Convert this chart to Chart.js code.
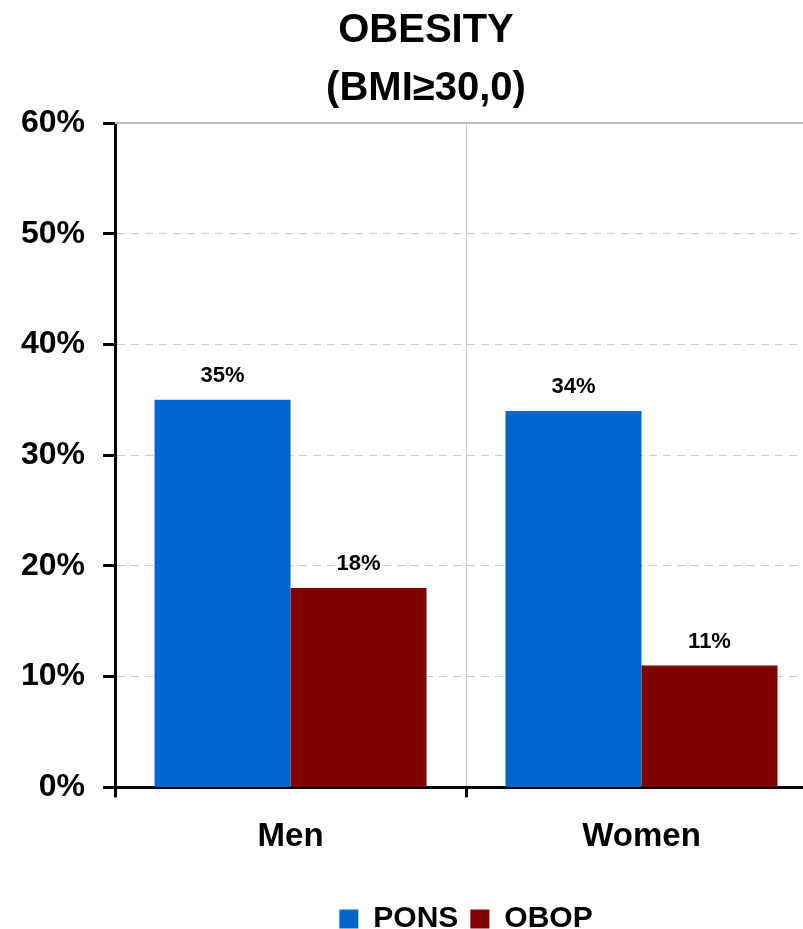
<!DOCTYPE html>
<html>
<head>
<meta charset="utf-8">
<script src="https://cdn.jsdelivr.net/npm/chart.js@4/dist/chart.umd.min.js"></script>
<style>
  html, body { margin: 0; padding: 0; background: #fff; overflow: hidden; }
  #wrap { width: 817px; height: 929px; }
</style>
</head>
<body>
<div id="wrap"><canvas id="c"></canvas></div>
<script>
// Obesity prevalence (BMI >= 30,0) by sex, two surveys
const categories = ['Men', 'Women'];
const seriesNames = ['PONS', 'OBOP'];
const ponsValues = [35, 34];
const obopValues = [18, 11];
const titleLines = ['OBESITY', '(BMI\u226530,0)'];

const FONT = '"Liberation Sans", Arial, Helvetica, sans-serif';

// Value labels above each bar, placed from the bar elements
const valueLabels = {
  id: 'valueLabels',
  afterDatasetsDraw(chart) {
    const ctx = chart.ctx;
    ctx.save();
    ctx.font = 'bold 22px ' + FONT;
    ctx.fillStyle = '#000';
    ctx.textAlign = 'center';
    ctx.textBaseline = 'alphabetic';
    chart.data.datasets.forEach((ds, i) => {
      chart.getDatasetMeta(i).data.forEach((bar, j) => {
        ctx.fillText(ds.data[j] + '%', bar.x, bar.y - 18);
      });
    });
    ctx.restore();
  }
};

// Solid line along the top of the plot area (the 60% level)
const topBorder = {
  id: 'topBorder',
  beforeDatasetsDraw(chart) {
    const { ctx, chartArea, scales } = chart;
    const y = scales.y.getPixelForValue(scales.y.max);
    ctx.save();
    ctx.strokeStyle = '#c0c0c0';
    ctx.lineWidth = 2;
    ctx.beginPath();
    ctx.moveTo(chartArea.left, y);
    ctx.lineTo(chartArea.right, y);
    ctx.stroke();
    ctx.restore();
  }
};

// Fine placement of the title and legend blocks
const blockOffsets = {
  id: 'blockOffsets',
  afterLayout(chart) {
    const lg = chart.legend;
    if (lg) { lg.top += 15; lg.bottom += 15; }
    const tb = chart.titleBlock;
    if (tb) { tb.left += 16; tb.right += 16; }
  }
};

new Chart(document.getElementById('c'), {
  type: 'bar',
  data: {
    labels: categories,
    datasets: [
      { label: seriesNames[0], data: ponsValues, backgroundColor: '#0066CC' },
      { label: seriesNames[1], data: obopValues, backgroundColor: '#800000' }
    ]
  },
  options: {
    responsive: true,
    maintainAspectRatio: false,
    animation: false,
    layout: { padding: { left: 3, right: 0, top: 0, bottom: 0 } },
    datasets: { bar: { barPercentage: 1.0, categoryPercentage: 0.775 } },
    plugins: {
      title: {
        display: true,
        text: titleLines,
        color: '#000',
        font: { family: FONT, size: 40, weight: 'bold', lineHeight: 1.45 },
        padding: { top: 2, bottom: 5 }
      },
      legend: {
        position: 'bottom',
        fullSize: false,
        labels: {
          color: '#000',
          font: { family: FONT, size: 30, weight: 'bold' },
          boxWidth: 19,
          boxHeight: 19,
          padding: 12
        }
      },
      tooltip: { enabled: false }
    },
    scales: {
      x: {
        grid: {
          offset: true,
          color: '#c8c8c8',
          lineWidth: 1,
          drawTicks: true,
          tickLength: 10,
          tickColor: '#000',
          tickWidth: 3
        },
        border: { display: true, color: '#000', width: 3 },
        ticks: {
          color: '#000',
          padding: 20,
          font: { family: FONT, size: 33, weight: 'bold' }
        }
      },
      y: {
        min: 0,
        max: 60,
        ticks: {
          stepSize: 10,
          color: '#000',
          padding: 18,
          font: { family: FONT, size: 32, weight: 'bold' },
          callback: v => v + '%'
        },
        grid: {
          color: '#c8c8c8',
          lineWidth: 1,
          tickLength: 12,
          tickColor: '#000',
          tickWidth: 3,
          tickBorderDash: []
        },
        border: { display: true, color: '#000', width: 3, dash: [8, 6] }
      }
    }
  },
  plugins: [valueLabels, topBorder, blockOffsets]
});
</script>
</body>
</html>
